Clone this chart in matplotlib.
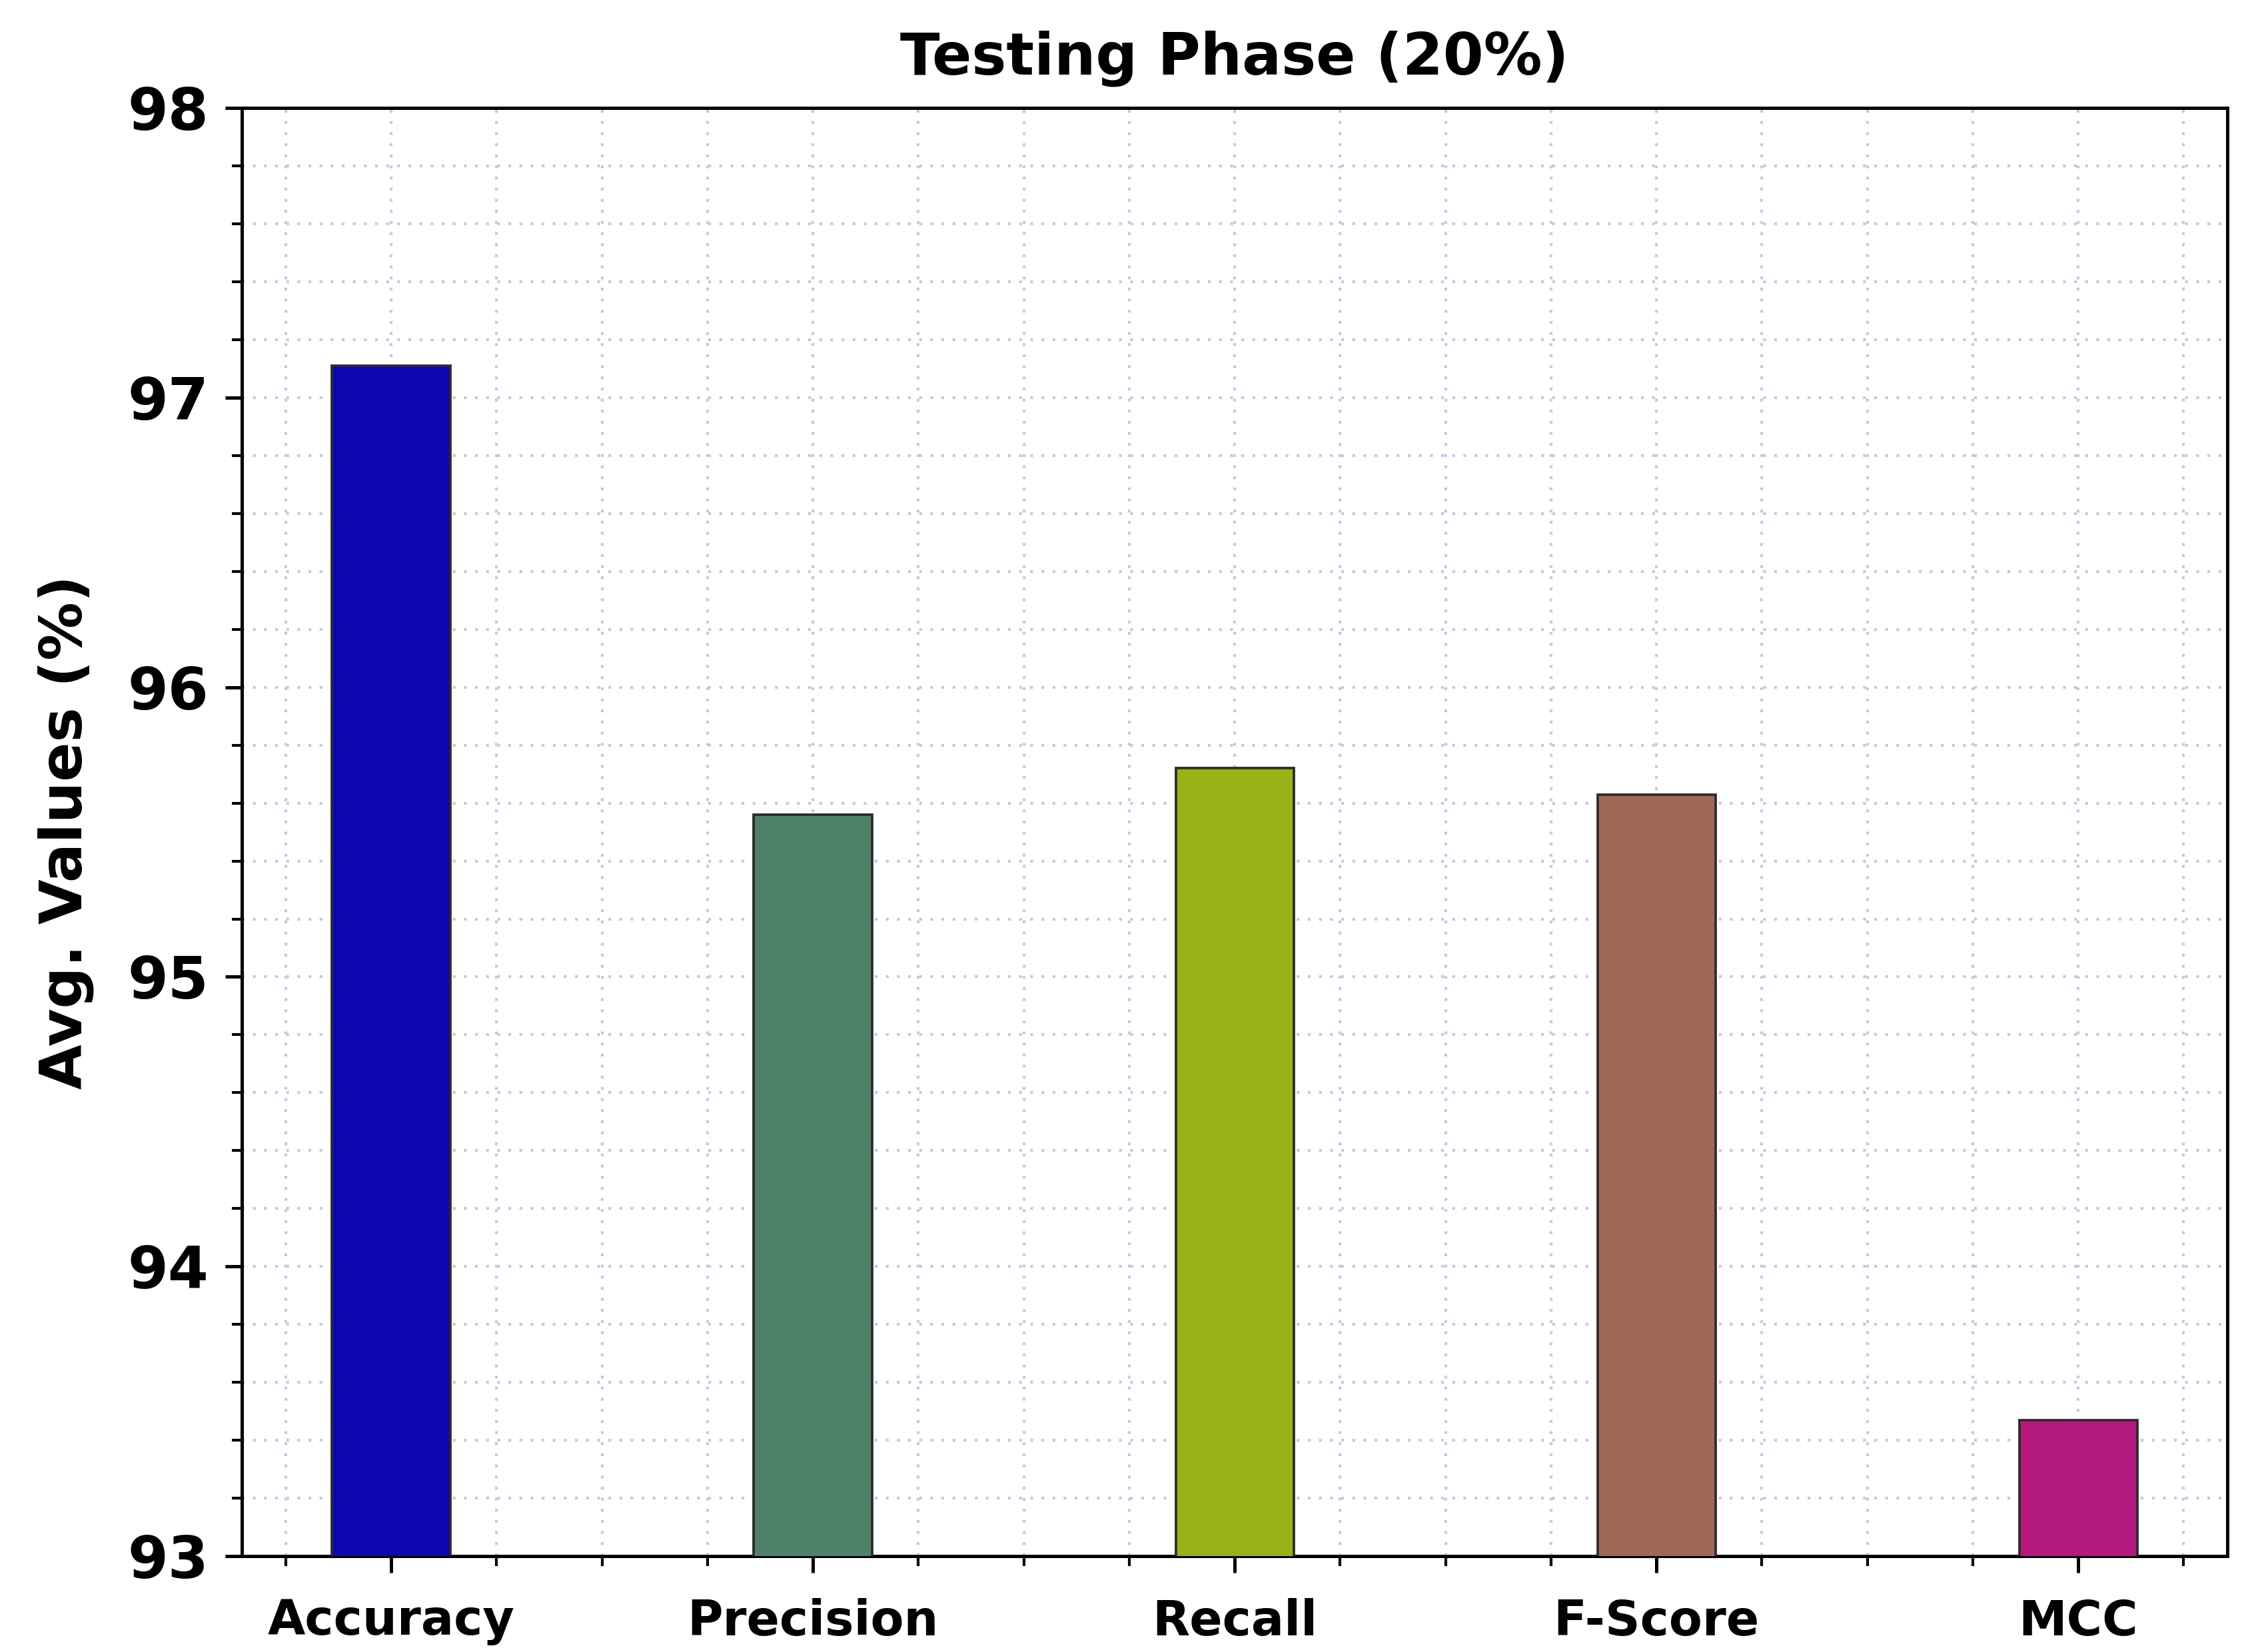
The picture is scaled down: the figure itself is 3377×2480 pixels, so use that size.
import matplotlib
matplotlib.use("Agg")
import matplotlib.pyplot as plt
from matplotlib.ticker import AutoMinorLocator, MultipleLocator

# data
metrics = ["Accuracy", "Precision", "Recall", "F-Score", "MCC"]
values = [97.11, 95.56, 95.72, 95.63, 93.47]
colors = ["#0c06b0", "#4e8068", "#9ab217", "#a16955", "#b41a7d"]

plt.rcParams["font.family"] = "DejaVu Sans"
plt.rcParams["font.weight"] = "bold"

fig = plt.figure(figsize=(3377 / 300, 2480 / 300), dpi=300)
ax = fig.add_axes([0.1075, 0.058, 0.8825, 0.8767])

x = list(range(len(metrics)))
ax.bar(x, values, width=0.28, color=colors, edgecolor="#2b2b2b",
       linewidth=0.9, zorder=3)

ax.set_ylim(93, 98)
ax.yaxis.set_major_locator(MultipleLocator(1))
ax.yaxis.set_minor_locator(AutoMinorLocator(5))
ax.xaxis.set_minor_locator(AutoMinorLocator(4))
ax.set_xticks(x)
ax.set_xticklabels(metrics, fontsize=17.5, fontweight="bold")
for lab in ax.get_yticklabels():
    lab.set_fontsize(21)
    lab.set_fontweight("bold")

# sparse lavender dotted grid, major and minor
ax.grid(True, which="both", linestyle=(0, (1, 3)), linewidth=1.0,
        color="#c6c6e6", zorder=0)

ax.tick_params(axis="both", which="major", length=6, width=1.2,
               direction="out")
ax.tick_params(axis="both", which="minor", length=3.5, width=1.0,
               direction="out")
ax.tick_params(axis="x", which="major", pad=9)
ax.tick_params(axis="y", which="major", pad=6)
for s in ax.spines.values():
    s.set_linewidth(1.2)

ax.set_title("Testing Phase (20%)", fontsize=21, fontweight="bold", pad=12)
ax.set_ylabel("Avg. Values (%)", fontsize=21, fontweight="bold", labelpad=12)

fig.savefig("out.png", dpi=300, facecolor="white")
